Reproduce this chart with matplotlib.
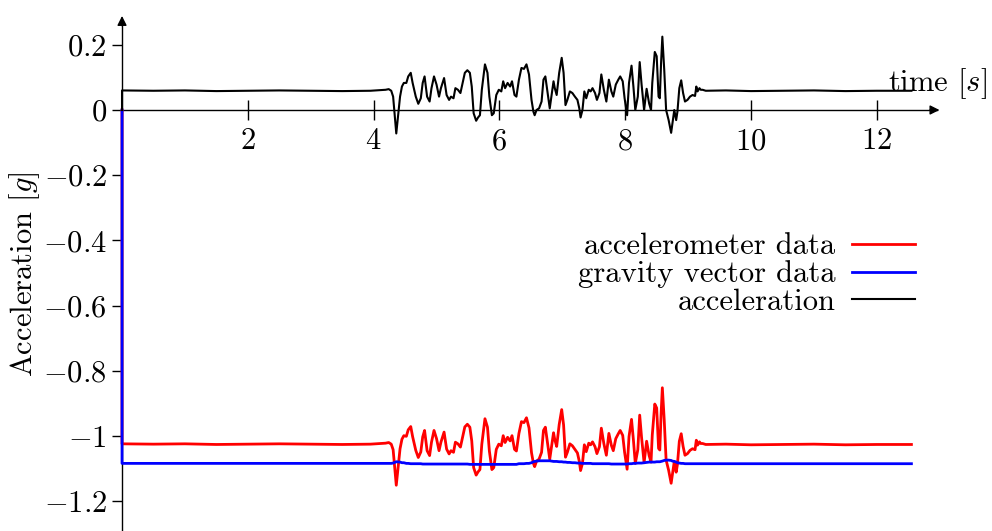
import numpy as np
import matplotlib
matplotlib.use("Agg")
import matplotlib.pyplot as plt

# Computer Modern look (cmr10 ships with matplotlib)
plt.rcParams['font.family'] = 'cmr10'
plt.rcParams['mathtext.fontset'] = 'cm'
plt.rcParams['axes.unicode_minus'] = False

# time [s]
t = [0.0, 0.0, 0.5, 1.0, 1.5, 2.0, 2.5, 3.0, 3.5, 3.95,
     4.19, 4.24, 4.28, 4.31, 4.36, 4.42, 4.45, 4.48, 4.52, 4.55, 4.59, 4.62, 4.67, 4.71, 4.75,
     4.78, 4.81, 4.85, 4.89, 4.92, 4.96, 5.00, 5.04, 5.07, 5.12, 5.16, 5.20, 5.23, 5.27, 5.30,
     5.34, 5.38, 5.41, 5.45, 5.49,
     5.53, 5.56, 5.59, 5.63, 5.66, 5.69, 5.72, 5.77, 5.81, 5.84, 5.88, 5.91, 5.95, 5.99, 6.03,
     6.06, 6.09, 6.13, 6.17, 6.20, 6.24, 6.27,
     6.31, 6.35, 6.39, 6.43, 6.47, 6.51, 6.54, 6.56, 6.59, 6.63, 6.67, 6.70, 6.73, 6.76, 6.80,
     6.83, 6.86, 6.88, 6.91, 6.95, 6.99,
     7.02, 7.05, 7.08, 7.12, 7.16, 7.20, 7.24, 7.27, 7.29, 7.32, 7.35, 7.38, 7.42, 7.45, 7.48,
     7.52, 7.55, 7.59,
     7.62, 7.66, 7.70, 7.74, 7.78, 7.81, 7.85, 7.89, 7.92, 7.96, 7.99, 8.03, 8.06, 8.10, 8.13,
     8.16, 8.20, 8.23, 8.26, 8.30,
     8.34, 8.38, 8.41, 8.43, 8.47, 8.50, 8.53, 8.55, 8.57, 8.59, 8.62, 8.65, 8.69, 8.73, 8.75,
     8.78, 8.81, 8.83, 8.86, 8.89, 8.92, 8.95, 8.99,
     9.03, 9.07, 9.11, 9.13, 9.15, 9.18, 9.20, 9.23, 9.28, 9.6, 10.0, 10.5, 11.0, 11.5, 12.0, 12.55]

# linear acceleration [g]
acc = [0.0, 0.060, 0.059, 0.060, 0.058, 0.059, 0.060, 0.059, 0.058, 0.059,
       0.062, 0.064, 0.059, 0.041, -0.072, 0.041, 0.072, 0.083, 0.083, 0.103, 0.114, 0.083, 0.041, 0.019, 0.036,
       0.083, 0.103, 0.041, 0.026, 0.067, 0.103, 0.078, 0.041, 0.067, 0.098, 0.046, 0.031, 0.041, 0.036, 0.067,
       0.062, 0.052, 0.078, 0.114, 0.122,
       0.114, 0.072, -0.010, -0.033, -0.023, -0.016, 0.062, 0.140, 0.114, 0.041, -0.016, -0.010, 0.046, 0.062, 0.057,
       0.088, 0.067, 0.083, 0.072, 0.088, 0.046, 0.041,
       0.093, 0.129, 0.126, 0.140, 0.109, 0.031, -0.005, -0.016, 0.000, 0.005, 0.026, 0.093, 0.103, 0.062, 0.005,
       0.046, 0.088, 0.067, 0.046, 0.114, 0.160,
       0.114, 0.015, 0.031, 0.057, 0.052, 0.041, 0.031, 0.005, -0.023, 0.000, 0.057, 0.036, 0.062, 0.057, 0.067,
       0.052, 0.031, 0.052,
       0.109, 0.062, 0.026, 0.093, 0.057, 0.041, 0.078, 0.093, 0.103, 0.088, 0.036, -0.016, 0.083, 0.136, 0.072,
       0.000, 0.041, 0.147, 0.078, 0.000,
       0.065, 0.020, 0.000, 0.083, 0.178, 0.165, 0.041, 0.036, 0.145, 0.225, 0.124, 0.000, -0.031, -0.070, -0.041,
       0.000, -0.031, -0.005, 0.067, 0.091, 0.052, 0.026, 0.031,
       0.041, 0.046, 0.043, 0.072, 0.057, 0.067, 0.062, 0.062, 0.059, 0.060, 0.058, 0.059, 0.060, 0.058, 0.059, 0.059]

# gravity vector [g]
grav = [0.0, -1.084, -1.084, -1.084, -1.084, -1.084, -1.084, -1.084, -1.084, -1.084,
        -1.084, -1.084, -1.084, -1.083, -1.079, -1.080, -1.082, -1.082, -1.084, -1.084, -1.085, -1.085, -1.085,
        -1.085, -1.085,
        -1.086, -1.086, -1.086, -1.086, -1.086, -1.086, -1.086, -1.086, -1.086, -1.086, -1.086, -1.086, -1.086,
        -1.086, -1.086, -1.086, -1.086, -1.086, -1.086, -1.086,
        -1.087, -1.087, -1.087, -1.087, -1.087, -1.087, -1.087, -1.087, -1.087, -1.087, -1.087, -1.087, -1.087,
        -1.087, -1.087, -1.087, -1.087, -1.087, -1.087, -1.087, -1.087, -1.087,
        -1.085, -1.085, -1.085, -1.084, -1.084, -1.082, -1.079, -1.078, -1.077, -1.076, -1.076, -1.076, -1.076,
        -1.076, -1.076, -1.077, -1.078, -1.078, -1.078, -1.079, -1.079,
        -1.080, -1.080, -1.081, -1.081, -1.082, -1.082, -1.083, -1.083, -1.083, -1.084, -1.084, -1.084, -1.084,
        -1.084, -1.085, -1.085, -1.085, -1.085,
        -1.085, -1.085, -1.085, -1.085, -1.086, -1.086, -1.086, -1.086, -1.086, -1.086, -1.086, -1.086, -1.085,
        -1.085, -1.084, -1.084, -1.083, -1.083, -1.083, -1.082,
        -1.081, -1.080, -1.080, -1.080, -1.080, -1.079, -1.079, -1.079, -1.078, -1.077, -1.075, -1.074, -1.074,
        -1.075, -1.077, -1.078, -1.080, -1.082, -1.083, -1.084, -1.084, -1.085, -1.085,
        -1.085, -1.085, -1.085, -1.085, -1.085, -1.085, -1.085, -1.085, -1.085, -1.085, -1.085, -1.085, -1.085,
        -1.085, -1.085, -1.085]

assert len(t) == len(acc) == len(grav)

t = np.array(t)
acc = np.array(acc)
grav = np.array(grav)
# accelerometer measures gravity plus linear acceleration
accel_meter = grav + acc

xticks = [2, 4, 6, 8, 10, 12]
yticks = [0.2, 0, -0.2, -0.4, -0.6, -0.8, -1, -1.2]

fs = 22
fig = plt.figure(figsize=(9.92, 5.31), dpi=100)
ax = fig.add_axes([0, 0, 1, 1])

# curves drawn above the axis lines (blue covers the y axis below 0)
ax.plot(t, accel_meter, color='red', lw=2.0, solid_joinstyle='round', zorder=3,
        label='accelerometer data')
ax.plot(t, grav, color='blue', lw=2.0, solid_joinstyle='round', zorder=3.1,
        label='gravity vector data')
ax.plot(t, acc, color='black', lw=1.5, solid_joinstyle='round', zorder=3.2,
        label='acceleration')

ax.set_xlim(-1.940, 13.831)
ax.set_ylim(-1.2914, 0.3374)

# axis lines through the origin
for s in ['top', 'right']:
    ax.spines[s].set_visible(False)
ax.spines['left'].set_position(('data', 0))
ax.spines['bottom'].set_position(('data', 0))
ax.spines['left'].set_bounds(-1.3, 0.27)
ax.spines['bottom'].set_bounds(0, 12.95)
ax.spines['left'].set_linewidth(1.0)
ax.spines['bottom'].set_linewidth(1.0)
ax.annotate('', xy=(13.04, 0), xytext=(12.8, 0),
            arrowprops=dict(arrowstyle='-|>', color='k', lw=1.0, mutation_scale=14))
ax.annotate('', xy=(0, 0.297), xytext=(0, 0.25),
            arrowprops=dict(arrowstyle='-|>', color='k', lw=1.0, mutation_scale=14))

ax.set_xticks(xticks)
ax.set_xticklabels([r'$%g$' % v for v in xticks], fontsize=fs)
ax.set_yticks(yticks)
ax.set_yticklabels([r'$%g$' % v for v in yticks], fontsize=fs)
ax.tick_params(axis='x', direction='inout', length=14, width=1.0, pad=6)
ax.tick_params(axis='y', direction='out', length=7, width=1.0, pad=4)

fig.text(987 / 992, 1 - 84 / 531, r'time $[s]$', fontsize=fs, ha='right', va='center')
fig.text(25 / 992, 1 - 274 / 531, r'Acceleration $[g]$', fontsize=fs,
         rotation=90, ha='center', va='center')

ax.legend(loc='upper right', bbox_to_anchor=(915 / 992, 1 - 233 / 531),
          bbox_transform=fig.transFigure, frameon=False, markerfirst=False,
          fontsize=fs, handlelength=2.05, handletextpad=0.55, labelspacing=0.0,
          borderpad=0, borderaxespad=0)

fig.savefig('out.png', dpi=100)
